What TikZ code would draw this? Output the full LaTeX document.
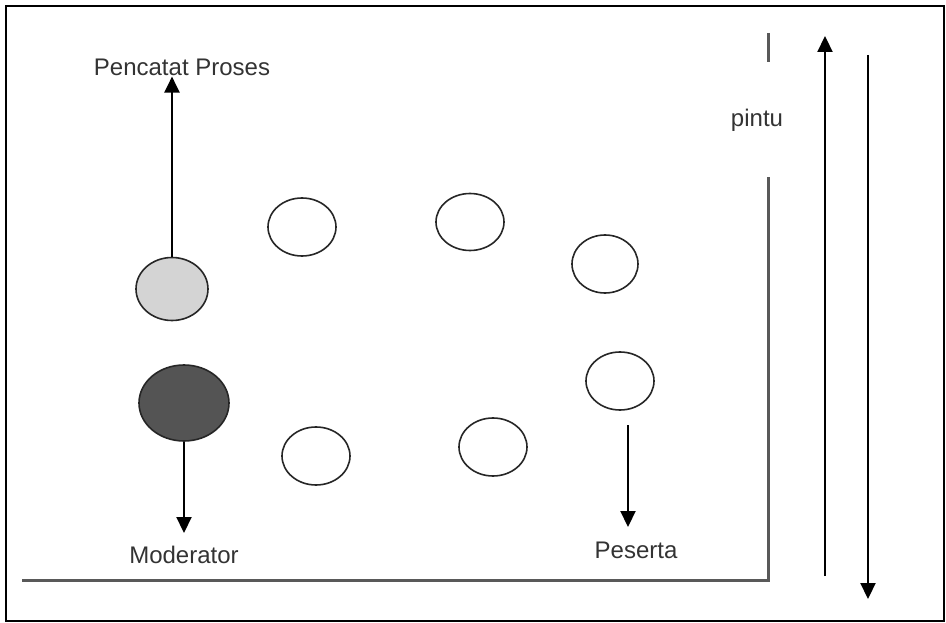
\documentclass[tikz,border=0pt]{standalone}
\usepackage{fontspec}
\setmainfont{Liberation Sans}
\usetikzlibrary{arrows.meta,shapes.geometric}

\tikzset{
  seat/.style={ellipse, draw=black!85, line width=1.6pt, fill=white, inner sep=0pt},
  lbl/.style={text=black!80, inner sep=1pt, font=\fontsize{24}{28}\selectfont},
  arr/.style={line width=2.2pt, -{Triangle[length=16pt,width=15pt]}},
  wall/.style={line width=3pt, black!65}
}

\begin{document}
\begin{tikzpicture}[x=1pt,y=-1pt]
  \useasboundingbox (0,0) rectangle (946,623);
  \draw[line width=1.5pt] (6,6) rectangle (944,621);

  % Room walls and door
  \draw[wall] (22,580) -- (768,580) -- (768,177);
  \draw[wall] (768,33) -- (768,62);
  \node[lbl] (pintu) at (757,120) {pintu};

  % Moderator and note taker
  \node[seat, fill=black!17, minimum width=72pt, minimum height=63pt] (pencatat) at (172,289) {};
  \node[seat, fill=black!67, minimum width=90pt, minimum height=76pt] (moderator) at (184,403) {};

  % Participants
  \node[seat, minimum width=68pt, minimum height=58pt] (p1) at (302,227) {};
  \node[seat, minimum width=68pt, minimum height=57pt] (p2) at (470,222) {};
  \node[seat, minimum width=66pt, minimum height=58pt] (p3) at (605,264) {};
  \node[seat, minimum width=68pt, minimum height=58pt] (p4) at (620,381) {};
  \node[seat, minimum width=68pt, minimum height=58pt] (p5) at (316,456) {};
  \node[seat, minimum width=68pt, minimum height=58pt] (p6) at (493,447) {};

  % Labels
  \node[lbl] (lpencatat) at (182,67) {Pencatat Proses};
  \node[lbl] (lmoderator) at (184,555) {Moderator};
  \node[lbl] (lpeserta) at (636,550) {Peserta};

  \coordinate (modtip) at (184,533);
  \coordinate (pestop) at (628,425);
  \coordinate (pestip) at (628,527);

  % Arrows
  \draw[arr] (pencatat.north) -- (pencatat.north |- lpencatat.south);
  \draw[arr] (moderator.south) -- (modtip);
  \draw[arr] (pestop) -- (pestip);

  % Way in and way out
  \coordinate (masukA) at (825,576);
  \coordinate (masukB) at (825,36);
  \coordinate (keluarA) at (868,55);
  \coordinate (keluarB) at (868,599);
  \draw[arr] (masukA) -- (masukB);
  \draw[arr] (keluarA) -- (keluarB);

\end{tikzpicture}
\end{document}
